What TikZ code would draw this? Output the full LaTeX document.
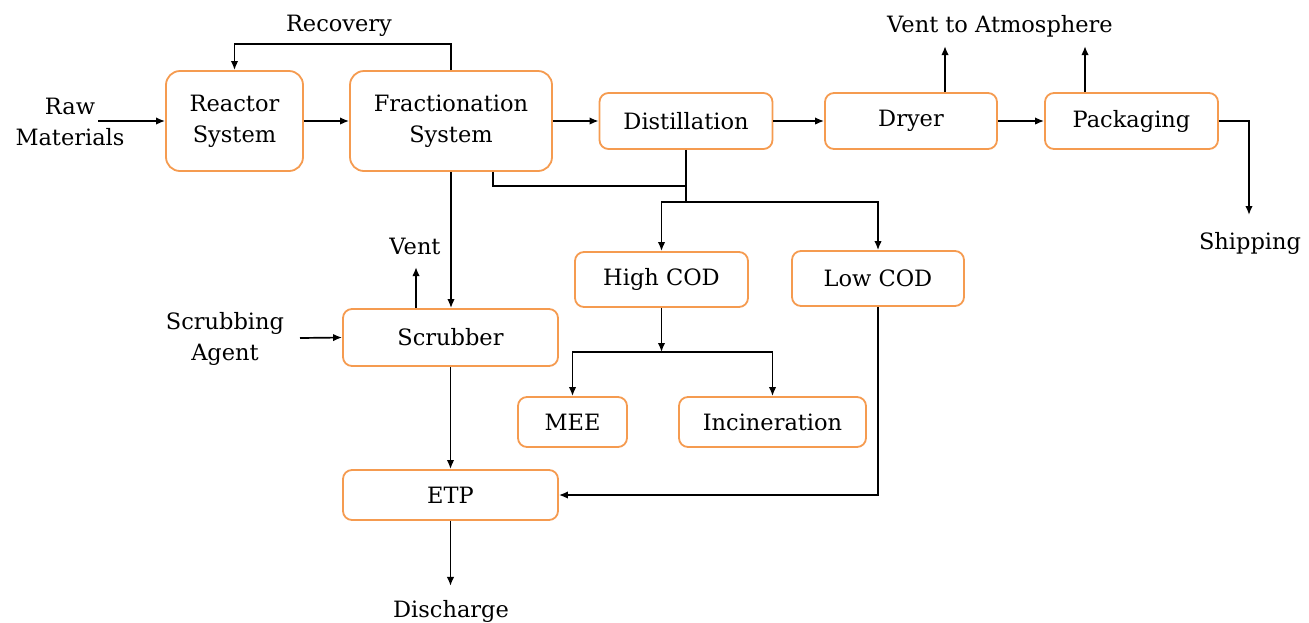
\documentclass[tikz,border=0pt]{standalone}
\usepackage{fontspec}
\setmainfont{DejaVu Serif}
\usetikzlibrary{arrows.meta}
\definecolor{boxorange}{RGB}{245,155,80}
\begin{document}
\begin{tikzpicture}[x=1pt,y=-1pt,
  txt/.style={align=center, inner sep=0pt, font=\fontsize{22.5}{31}\selectfont},
  box/.style={txt, draw=boxorange, line width=1.8pt, rounded corners=9pt},
  bigbox/.style={box, rounded corners=14pt},
  arr/.style={line width=1.7pt, -{Latex[length=9pt,width=7.5pt]}},
  ln/.style={line width=1.7pt}]
\useasboundingbox (0,0) rectangle (1309,622);
% boxes
\node[bigbox, minimum width=137pt, minimum height=100pt] (reactor) at (234.5,121) {Reactor\\System};
\node[bigbox, minimum width=202pt, minimum height=100pt] (frac) at (451,121) {Fractionation\\System};
\node[box, minimum width=173pt, minimum height=56pt] (dist) at (686,121) {Distillation};
\node[box, minimum width=172pt, minimum height=56pt] (dryer) at (911,121) {Dryer};
\node[box, minimum width=173pt, minimum height=56pt] (pack) at (1131.5,121) {Packaging};
\node[box, minimum width=173pt, minimum height=55pt] (high) at (661.5,279.5) {High COD};
\node[box, minimum width=172pt, minimum height=55pt] (low) at (878,278.5) {Low COD};
\node[box, minimum width=109pt, minimum height=50pt] (mee) at (572.5,422) {MEE};
\node[box, minimum width=187pt, minimum height=50pt] (incin) at (772.5,422) {Incineration};
\node[box, minimum width=215pt, minimum height=57pt] (scrub) at (450.5,337.5) {Scrubber};
\node[box, minimum width=215pt, minimum height=50pt] (etp) at (450.5,495) {ETP};
% labels
\node[txt] (raw) at (70,122) {Raw\\Materials};
\node[txt] (recov) at (339,26) {Recovery};
\node[txt] (vent) at (415,246) {Vent};
\node[txt] (sagent) at (225,339) {Scrubbing\\Agent};
\node[txt] (disch) at (451,611) {Discharge};
\node[txt] (vatm) at (1000,26) {Vent to Atmosphere};
\node[txt] (ship) at (1250,243) {Shipping};
% coordinates
\coordinate (rawend) at (98,121);
\coordinate (saend) at (300,338);
\coordinate (split1) at (686,202);
\coordinate (split2) at (661.5,352);
\coordinate (shipturn) at (1249,121);
\coordinate (shipend) at (1249,215);
% connectors
\draw[arr] (rawend) -- (reactor.west);
\draw[arr] (reactor.east) -- (frac.west);
\draw[arr] (frac.east) -- (dist.west);
\draw[arr] (dist.east) -- (dryer.west);
\draw[arr] (dryer.east) -- (pack.west);
\draw[arr] (frac.north) -- ++(0,-26) -| (reactor.north);
\draw[arr] ([xshift=34pt]dryer.north) -- ++(0,-46);
\draw[arr] ([xshift=-46.5pt]pack.north) -- ++(0,-46);
\draw[arr] (pack.east) -- (shipturn) -- (shipend);
\draw[ln] ([xshift=42pt]frac.south) -- ++(0,14) -| (dist.south);
\draw[ln] (dist.south) -- (split1);
\draw[arr] (split1) -| (high.north);
\draw[arr] (split1) -| (low.north);
\draw[arr] (high.south) -- (split2);
\draw[arr] (split2) -| (mee.north);
\draw[arr] (split2) -| (incin.north);
\draw[arr] (low.south) |- (etp.east);
\draw[arr] (frac.south) -- (frac.south |- scrub.north);
\draw[arr] ([xshift=-34.5pt]scrub.north) -- ++(0,-41);
\draw[arr] (saend) -- (scrub.west);
\draw[arr] (scrub.south) -- (etp.north);
\draw[arr] (etp.south) -- ++(0,65);
\end{tikzpicture}
\end{document}
